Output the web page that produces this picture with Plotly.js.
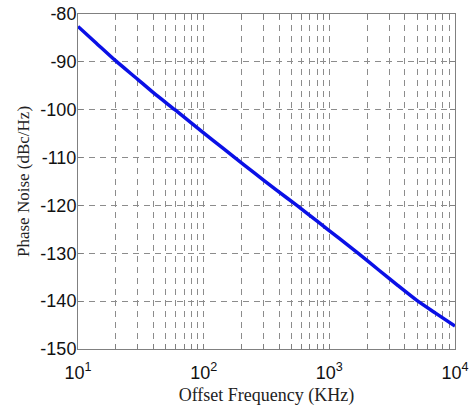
<!DOCTYPE html>
<html><head><meta charset="utf-8">
<script src="https://cdn.plot.ly/plotly-3.0.1.min.js"></script>
<style>body{margin:0;background:#fff}#c{width:469px;height:406px}</style>
</head><body><div id="c"></div>
<script>
const freqKHz = [10, 14, 20, 30, 40, 59, 80, 120, 177, 250, 380, 552, 800, 1200, 1700, 2500, 3500, 5000, 7000, 10000];
const phaseNoise = [-82.6, -86.1, -89.8, -93.7, -96.5, -100.0, -102.8, -106.5, -110.0, -113.1, -116.8, -120.0, -123.3, -126.9, -130.0, -133.6, -136.7, -139.9, -142.5, -145.2];
const xTickVals = [10, 100, 1000, 10000];
const xTickText = ['10<sup>1</sup>', '10<sup>2</sup>', '10<sup>3</sup>', '10<sup>4</sup>'];
const yTickVals = [-150, -140, -130, -120, -110, -100, -90, -80];
const yTickText = ['-150', '-140', '-130', '-120', '-110', '-100', '-90', '-80'];

const gridCol = '#8c8c8c';
const axCol = '#808080';
Plotly.newPlot('c', [{
  x: freqKHz, y: phaseNoise, type: 'scatter', mode: 'lines',
  line: {color: '#0a10e6', width: 3.5, shape: 'spline', smoothing: 0.6}
}], {
  width: 469, height: 406,
  margin: {l: 78, r: 14, t: 14, b: 57},
  paper_bgcolor: '#fff', plot_bgcolor: '#fff',
  showlegend: false,
  xaxis: {
    type: 'log', range: [1, 4], tickvals: xTickVals, ticktext: xTickText, automargin: false,
    showline: true, mirror: 'ticks', linecolor: axCol, linewidth: 1,
    ticks: 'inside', ticklen: 5, tickcolor: axCol, ticklabelstandoff: 7,
    showgrid: true, gridcolor: gridCol, griddash: '6px,5px', gridwidth: 1,
    minor: {tickvals: [20,30,40,50,60,70,80,90,200,300,400,500,600,700,800,900,2000,3000,4000,5000,6000,7000,8000,9000],
            showgrid: true, gridcolor: gridCol, griddash: '6px,5px', gridwidth: 1, ticks: 'inside', ticklen: 5, tickcolor: axCol},
    tickfont: {family: 'Liberation Sans, Arial', size: 18, color: '#111'},
    title: {text: 'Offset Frequency (KHz)', font: {family: 'Liberation Serif, Times New Roman', size: 18, color: '#222'}, standoff: 6},
    zeroline: false
  },
  yaxis: {
    range: [-150, -80], tickvals: yTickVals, ticktext: yTickText, automargin: false,
    showline: true, mirror: 'ticks', linecolor: axCol, linewidth: 1,
    ticks: 'inside', ticklen: 5, tickcolor: axCol, ticklabelstandoff: -3,
    showgrid: true, gridcolor: gridCol, griddash: '6px,5px', gridwidth: 1,
    tickfont: {family: 'Liberation Sans, Arial', size: 18, color: '#111'},
    title: {text: 'Phase Noise (dBc/Hz)', font: {family: 'Liberation Serif, Times New Roman', size: 17, color: '#222'}, standoff: 6},
    zeroline: false
  }
}, {staticPlot: true});
</script></body></html>
